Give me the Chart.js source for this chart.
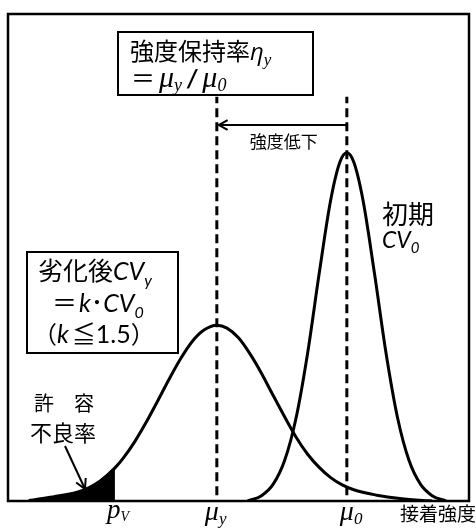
<!DOCTYPE html>
<html>
<head>
    <meta charset="utf-8">
    <title>強度保持率と劣化後CV</title>
    <style>
        body { margin: 0; background: #fff; }
        .chart { width: 476px; height: 530px; }
    </style>
</head>
<body>
    <div class="chart">
        <canvas id="strengthChart"></canvas>
    </div>

    <script src="https://cdn.jsdelivr.net/npm/chart.js"></script>
    <script>
        // 劣化後の分布 (x: 接着強度, y: 頻度) 図から読み取り
        var degradedX = [4.5, 7.5, 10, 12.5, 15, 17.5, 20, 23.2, 25, 27.5, 30, 32.5, 35, 37.5, 40, 42.5, 45.3, 47.5, 50, 52.5, 55, 57.5, 60, 62.5, 65, 67.5, 70, 72.5, 75, 80, 85, 90, 92];
        var degradedY = [0.1, 0.5, 0.9, 1.3, 1.8, 2.7, 4.1, 6.8, 8.8, 12.2, 16.2, 20.6, 25.1, 29.3, 32.8, 35.1, 36.1, 35.5, 33.5, 30.2, 26.2, 21.7, 17.3, 13.1, 9.6, 6.9, 4.8, 3.3, 2.3, 1.2, 0.5, 0.1, 0];

        // 初期の分布
        var initialX = [52, 55, 57.5, 60, 62.5, 65, 67.5, 70, 72, 73.5, 75, 77, 79.5, 82, 84.5, 87, 89.5, 92, 95];
        var initialY = [0, 1.1, 3.4, 8.3, 17.1, 30.4, 46.7, 61.8, 69.6, 71.5, 69.6, 61.8, 46.7, 30.4, 17.1, 8.3, 3.4, 1.1, 0];

        // 軸上の記号位置
        var muY = 45.3;
        var mu0 = 73.5;
        var pV = 23.2;
        var guideBottom = 1.2;
        var guideTop = 83;
        var dropArrowY = 77.2;

        function toPoints(xs, ys) {
            var pts = [];
            xs.forEach(function (x, i) { pts.push({ x: x, y: ys[i] }); });
            return pts;
        }

        var degradedPts = toPoints(degradedX, degradedY);
        var initialPts = toPoints(initialX, initialY);
        var tailPts = degradedPts.filter(function (p) { return p.x <= pV; });

        var JP = '"Noto Sans CJK JP", sans-serif';
        var LAT = 'Lato, "Open Sans", sans-serif';
        var SERIF = '"Liberation Serif", "DejaVu Serif", serif';

        // 文字列を順に並べて描く（添字は dy でずらす）
        function runs(ctx, x, y, parts) {
            parts.forEach(function (p) {
                ctx.font = p[1];
                ctx.fillText(p[0], x, y + (p[2] || 0));
                x += ctx.measureText(p[0]).width + (p[3] || 0);
            });
        }

        function arrowHead(ctx, fx, fy, tx, ty, len) {
            var a = Math.atan2(ty - fy, tx - fx);
            ctx.beginPath();
            ctx.moveTo(tx - len * Math.cos(a - 0.5), ty - len * Math.sin(a - 0.5));
            ctx.lineTo(tx, ty);
            ctx.lineTo(tx - len * Math.cos(a + 0.5), ty - len * Math.sin(a + 0.5));
            ctx.stroke();
        }

        var labelsPlugin = {
            id: 'labels',
            afterDraw: function (chart) {
                var ctx = chart.ctx;
                var area = chart.chartArea;
                var xs = chart.scales.x;
                var ys = chart.scales.y;
                ctx.save();
                ctx.fillStyle = '#000';
                ctx.strokeStyle = '#000';
                ctx.textBaseline = 'alphabetic';

                // 枠
                ctx.lineWidth = 2.5;
                ctx.strokeRect(area.left, area.top, area.right - area.left, area.bottom - area.top);

                // 強度低下の矢印
                var x0 = xs.getPixelForValue(mu0);
                var xy = xs.getPixelForValue(muY);
                var ay = ys.getPixelForValue(dropArrowY);
                ctx.lineWidth = 2;
                ctx.beginPath();
                ctx.moveTo(x0, ay);
                ctx.lineTo(xy + 2, ay);
                ctx.stroke();
                arrowHead(ctx, x0, ay, xy + 2, ay, 10);
                ctx.font = '17px ' + JP;
                ctx.textAlign = 'center';
                ctx.fillText('強度低下', (x0 + xy) / 2 + 2, 148);
                ctx.textAlign = 'left';

                // 上の枠: 強度保持率
                ctx.lineWidth = 2;
                ctx.strokeRect(118, 32, 195, 63);
                runs(ctx, 130, 60, [
                    ['強度保持率', '24px ' + JP],
                    ['η', 'italic 24px "Open Sans", sans-serif'],
                    ['y', 'italic 17px ' + SERIF, 5]
                ]);
                runs(ctx, 131, 87, [
                    ['＝', '24px ' + JP, 0, 4],
                    ['μ', 'italic 30px ' + SERIF],
                    ['y', 'italic 18px ' + SERIF, 4, 5],
                    ['/', 'bold italic 24px ' + LAT, 0, 5],
                    ['μ', 'italic 30px ' + SERIF],
                    ['0', 'italic 18px ' + SERIF, 4]
                ]);

                // 左の枠: 劣化後CV
                ctx.strokeRect(27, 252, 151, 101);
                runs(ctx, 38, 280, [
                    ['劣化後', '25px ' + JP],
                    ['CV', 'italic 25px ' + LAT],
                    ['y', 'italic 16px ' + LAT, 6]
                ]);
                runs(ctx, 52, 312, [
                    ['＝', '25px ' + JP, 0, 2],
                    ['k', 'italic 25px ' + LAT],
                    ['･', '25px ' + JP],
                    ['CV', 'italic 25px ' + LAT],
                    ['0', 'italic 16px ' + LAT, 6]
                ]);
                runs(ctx, 33, 343, [
                    ['（', '24px ' + JP],
                    ['k', 'italic 25px ' + LAT, 0, 3],
                    ['≦', '24px ' + JP],
                    ['1.5', '25px ' + LAT],
                    ['）', '24px ' + JP]
                ]);

                // 初期
                ctx.font = '26px ' + JP;
                ctx.fillText('初期', 382, 224);
                runs(ctx, 382, 248, [
                    ['CV', 'italic 23px ' + LAT],
                    ['0', 'italic 15px ' + LAT, 5]
                ]);

                // 許容不良率と矢印
                ctx.font = '20px ' + JP;
                ctx.fillText('許　容', 34, 411);
                ctx.font = '22px ' + JP;
                ctx.fillText('不良率', 30, 441);
                ctx.lineWidth = 2;
                ctx.beginPath();
                ctx.moveTo(65, 446);
                ctx.lineTo(85, 489);
                ctx.stroke();
                arrowHead(ctx, 65, 446, 85, 489, 11);

                // 横軸の記号
                var px = xs.getPixelForValue(pV);
                runs(ctx, px - 8, 518, [
                    ['p', 'italic 27px ' + SERIF],
                    ['V', 'italic 14px ' + SERIF, 3]
                ]);
                runs(ctx, xy - 12, 520, [
                    ['μ', 'italic 28px ' + SERIF],
                    ['y', 'italic 17px ' + SERIF, 4]
                ]);
                runs(ctx, x0 - 7, 520, [
                    ['μ', 'italic 28px ' + SERIF],
                    ['0', 'italic 17px ' + SERIF, 4]
                ]);
                ctx.font = '19px ' + JP;
                ctx.fillText('接着強度', 400, 521);

                ctx.restore();
            }
        };

        var ctxChart = document.getElementById('strengthChart').getContext('2d');

        var lineBase = {
            borderColor: '#000',
            borderWidth: 3,
            pointRadius: 0,
            fill: false,
            cubicInterpolationMode: 'monotone'
        };

        new Chart(ctxChart, {
            type: 'line',
            data: {
                datasets: [
                    Object.assign({}, lineBase, {
                        label: '許容不良率',
                        data: tailPts,
                        borderWidth: 0,
                        backgroundColor: '#000',
                        fill: 'origin'
                    }),
                    Object.assign({}, lineBase, { label: '劣化後', data: degradedPts }),
                    Object.assign({}, lineBase, { label: '初期', data: initialPts }),
                    Object.assign({}, lineBase, {
                        label: 'μy',
                        data: [{ x: muY, y: guideBottom }, { x: muY, y: guideTop }],
                        borderDash: [9, 5],
                        cubicInterpolationMode: 'default',
                        tension: 0
                    }),
                    Object.assign({}, lineBase, {
                        label: 'μ0',
                        data: [{ x: mu0, y: guideBottom }, { x: mu0, y: guideTop }],
                        borderDash: [9, 5],
                        cubicInterpolationMode: 'default',
                        tension: 0
                    })
                ]
            },
            options: {
                responsive: true,
                maintainAspectRatio: false,
                animation: false,
                layout: { padding: { left: 8, top: 14, right: 7, bottom: 29 } },
                plugins: { legend: { display: false }, tooltip: { enabled: false } },
                scales: {
                    x: { type: 'linear', min: 0, max: 100, display: false },
                    y: { type: 'linear', min: 0, max: 100, display: false }
                }
            },
            plugins: [labelsPlugin]
        });
    </script>
</body>
</html>
